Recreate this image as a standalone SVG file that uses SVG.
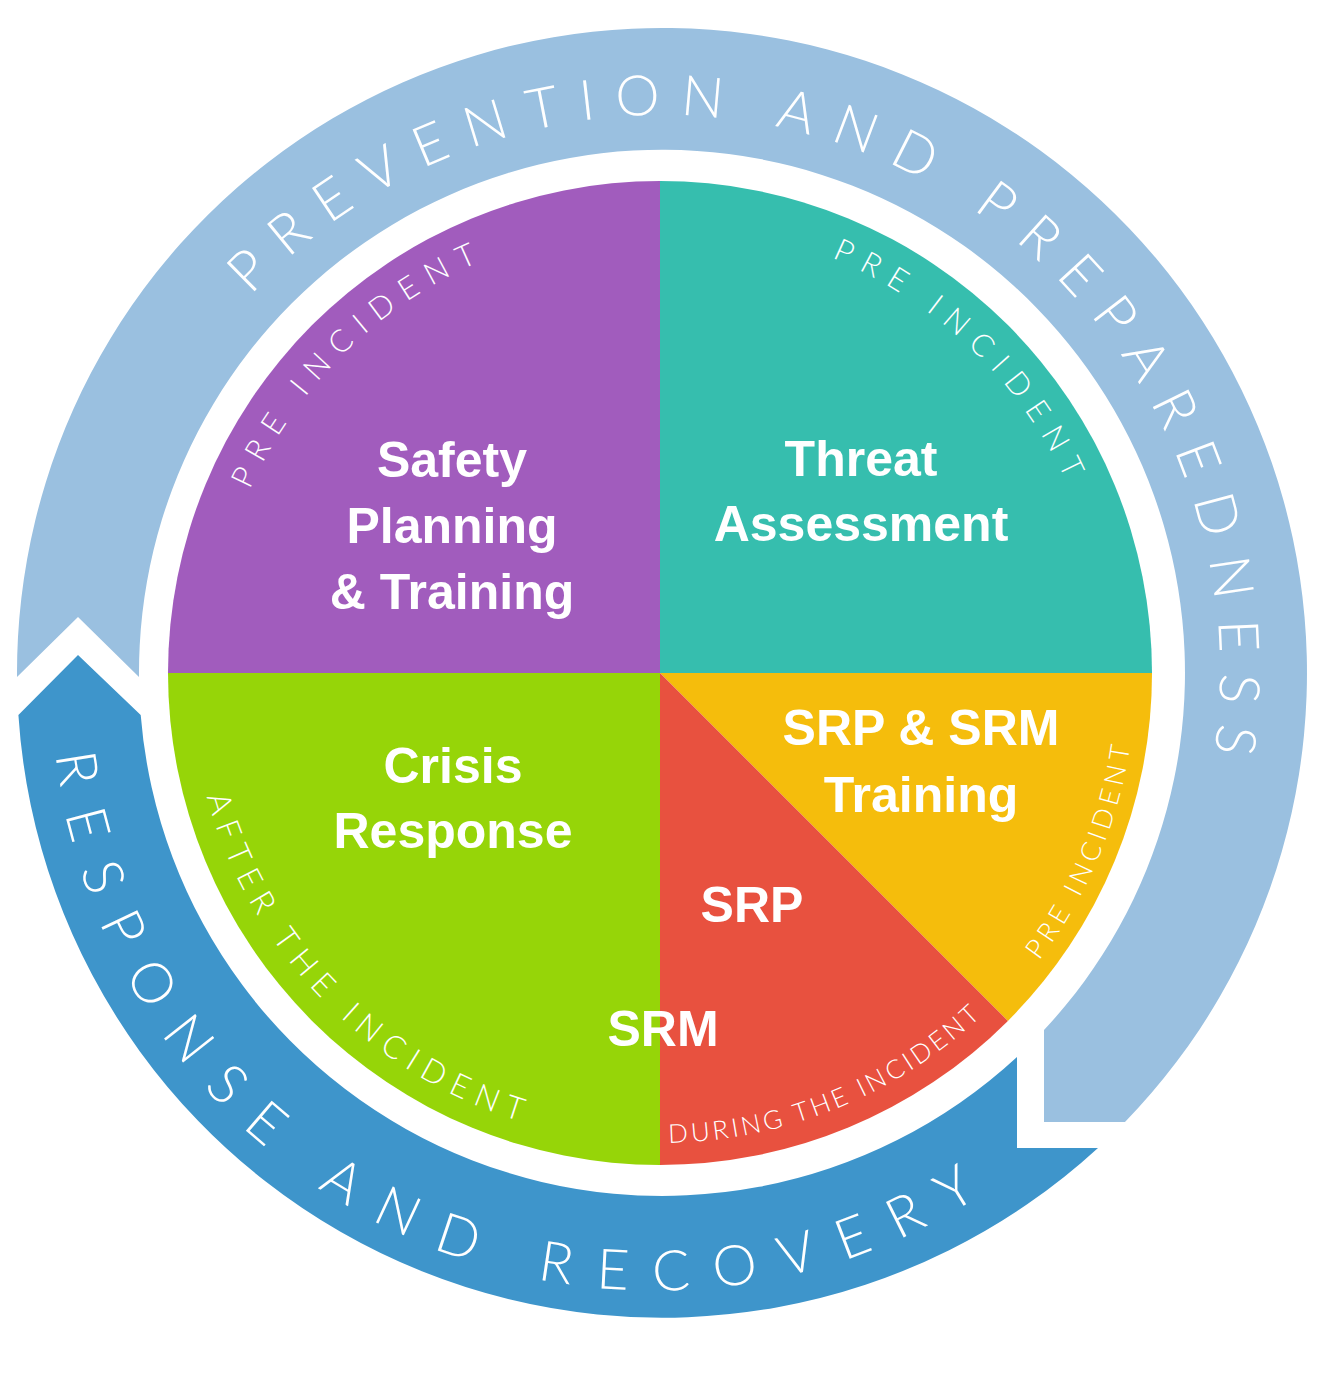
<svg xmlns="http://www.w3.org/2000/svg" xmlns:xlink="http://www.w3.org/1999/xlink" width="1325" height="1375" viewBox="0 0 1325 1375">
<defs>
<style>
.lbl{font-family:"Liberation Sans",Arial,sans-serif;font-weight:bold;font-size:50px;fill:#fff;text-anchor:middle}
.ring{font-family:Lato,"Liberation Sans",sans-serif;font-weight:300;font-size:56px;fill:#fff}
.sm{font-family:Lato,"Liberation Sans",sans-serif;font-weight:300;fill:#fff}
</style>
<path id="pTop" d="M137.6,863.8 A558,558 0 1 1 852.8,1197.4"/>
<path id="pBot" d="M172.3,326.3 A603,603 0 1 0 1240.8,831.3"/>
<path id="pPurple" d="M288.6,925.4 A449,449 0 0 1 922.7,308.8"/>
<path id="pTeal" d="M397.3,308.8 A449,449 0 0 1 1031.4,925.4"/>
<path id="pYellow" d="M556.1,1132.4 A470,470 0 0 0 914.8,276.9"/>
<path id="pRed" d="M262.5,923.8 A470,470 0 0 0 1119.3,573.3"/>
<path id="pGreen" d="M277.4,400.1 A470,470 0 0 0 926.2,1060.3"/>
</defs>
<rect width="1325" height="1375" fill="#fff"/>

<g id="ring-prevention">
<path d="M17,677 L78,617 L139,677 A523,523 0 1 1 1044,1030 L1044,1122 L1125,1122 A645,645 0 1 0 17,677 Z" fill="#9AC0E0"/>
<text class="ring" letter-spacing="19.8"><textPath xlink:href="#pTop" href="#pTop" startOffset="1328" text-anchor="middle">PREVENTION AND PREPAREDNESS</textPath></text>
</g>

<g id="ring-response">
<path d="M18.4,715 L78,655 L140.7,715 A523,523 0 0 0 1017,1057 L1017,1148 L1098,1148 A645,645 0 0 1 18.4,715 Z" fill="#3E95CB"/>
<text class="ring" letter-spacing="25.6"><textPath xlink:href="#pBot" href="#pBot" startOffset="1078" text-anchor="middle">RESPONSE AND RECOVERY</textPath></text>
</g>

<g id="safety-planning">
<path d="M660,673 L168,673 A492,492 0 0 1 660,181 Z" fill="#A15CBD"/>
<text class="sm" font-size="31" letter-spacing="11.2"><textPath xlink:href="#pPurple" href="#pPurple" startOffset="50%" text-anchor="middle">PRE INCIDENT</textPath></text>
<text class="lbl" x="452" y="477">Safety</text>
<text class="lbl" x="452" y="543">Planning</text>
<text class="lbl" x="452" y="609">&amp; Training</text>
</g>

<g id="threat-assessment">
<path d="M660,673 L660,181 A492,492 0 0 1 1152,673 Z" fill="#36BEAE"/>
<text class="sm" font-size="31" letter-spacing="11.2"><textPath xlink:href="#pTeal" href="#pTeal" startOffset="50%" text-anchor="middle">PRE INCIDENT</textPath></text>
<text class="lbl" x="861" y="476">Threat</text>
<text class="lbl" x="861" y="541">Assessment</text>
</g>

<g id="srp-srm-training">
<path d="M660,673 L1152,673 A492,492 0 0 1 1007.9,1020.9 Z" fill="#F5BD0C"/>
<text class="sm" font-size="27" letter-spacing="5"><textPath xlink:href="#pYellow" href="#pYellow" startOffset="50%" text-anchor="middle">PRE INCIDENT</textPath></text>
<text class="lbl" x="921" y="745">SRP &amp; SRM</text>
<text class="lbl" x="921" y="812">Training</text>
</g>

<g id="srp-srm">
<path d="M660,673 L1007.9,1020.9 A492,492 0 0 1 660,1165 Z" fill="#E8513F"/>
<text class="sm" font-size="26" letter-spacing="3.4"><textPath xlink:href="#pRed" href="#pRed" startOffset="50%" text-anchor="middle">DURING THE INCIDENT</textPath></text>
<text class="lbl" x="752" y="922">SRP</text>
</g>

<g id="crisis-response">
<path d="M660,673 L660,1165 A492,492 0 0 1 168,673 Z" fill="#96D508"/>
<text class="sm" font-size="32" letter-spacing="8.8"><textPath xlink:href="#pGreen" href="#pGreen" startOffset="50%" text-anchor="middle">AFTER THE INCIDENT</textPath></text>
<text class="lbl" x="453" y="783">Crisis</text>
<text class="lbl" x="453" y="848">Response</text>
</g>

<g id="srm-label">
<text class="lbl" x="663" y="1046">SRM</text>
</g>
</svg>
